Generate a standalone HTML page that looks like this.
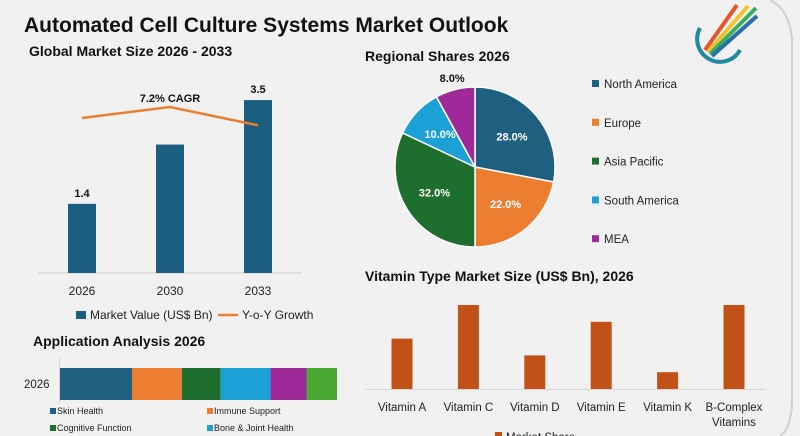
<!DOCTYPE html>
<html><head><meta charset="utf-8"><style>
body{margin:0;background:#f1f1f1;}
svg{display:block;font-family:"Liberation Sans",sans-serif;}
</style></head><body>
<svg id="s" width="800" height="436" viewBox="0 0 800 436">
<rect x="0" y="0" width="800" height="436" fill="#f1f1f1"/>
<path d="M770 0 Q790 10 792 40 L792 405 Q790 430 780 436" fill="none" stroke="#cfcfcf" stroke-width="2"/>
<text x="24" y="32" font-size="21" font-weight="bold" fill="#111">Automated Cell Culture Systems Market Outlook</text>
<g>
<path d="M700 28 A22 22 0 1 0 740 50" fill="none" stroke="#1f8aa0" stroke-width="4"/>
<path d="M705 50 L737 5" stroke="#e8552b" stroke-width="4"/>
<path d="M708 52 L748 6" stroke="#f2c12e" stroke-width="4"/>
<path d="M710 54 L756 8" stroke="#3cae5a" stroke-width="4"/>
<path d="M712 56 L757 16" stroke="#2a6fa8" stroke-width="4"/>
</g>
<text x="29" y="56" font-size="14" font-weight="bold" fill="#111">Global Market Size 2026 - 2033</text>
<g id="left"></g>
<text x="365" y="61" font-size="14" font-weight="bold" fill="#111">Regional Shares 2026</text>
<g id="pie"></g>
<text x="365" y="281" font-size="14" font-weight="bold" fill="#111">Vitamin Type Market Size (US$ Bn), 2026</text>
<g id="vit"></g>
<text x="33" y="346" font-size="14" font-weight="bold" fill="#111">Application Analysis 2026</text>
<g id="app"></g>
</svg>
<script>
const years=["2026","2030","2033"];
const marketValues=[1.4,2.6,3.5];
const valueLabels=["1.4","","3.5"];
const growthValues=[7.0,7.6,6.6];
const regions=["North America","Europe","Asia Pacific","South America","MEA"];
const regionShares=[28,22,32,10,8];
const regionColors=["#1f5f7f","#ed7d31","#1e6e2e","#1ba1d8","#a0299a"];
const vitamins=[["Vitamin A"],["Vitamin C"],["Vitamin D"],["Vitamin E"],["Vitamin K"],["B-Complex","Vitamins"]];
const vitaminValues=[3,5,2,4,1,5];
const apps=["Skin Health","Immune Support","Cognitive Function","Bone & Joint Health","Eye Health","Other"];
const appValues=[26,18,14,18,13,11];
const appColors=["#1f5f7f","#ed7d31","#1e6e2e","#1ba1d8","#a0299a","#4aa832"];

const NS="http://www.w3.org/2000/svg";
function mk(p,tag,a,txt){const e=document.createElementNS(NS,tag);for(const k in a)e.setAttribute(k,a[k]);if(txt!==undefined)e.textContent=txt;p.appendChild(e);return e;}

// Left chart
const L=document.getElementById('left');
const lx=i=>82+i*88, ly=v=>273-v*49.4, gy=v=>118-(v-7.0)*18.3;
let ax=mk(L,'line',{x1:38,x2:302,y1:273,y2:273,stroke:'#d0d0d0'});

marketValues.forEach((v,i)=>{
 let r=mk(L,'rect',{x:lx(i)-14,y:ly(v),width:28,height:273-ly(v),fill:'#1b5e80'});
 
 if(valueLabels[i]){let t=mk(L,'text',{x:lx(i),y:ly(v)-7,'text-anchor':'middle','font-size':11,'font-weight':'bold',fill:'#111'},valueLabels[i]);
 }
 let t2=mk(L,'text',{x:lx(i),y:295,'text-anchor':'middle','font-size':12,fill:'#222'},years[i]);
 
});
let pl=mk(L,'polyline',{points:growthValues.map((v,i)=>lx(i)+','+gy(v)).join(' '),fill:'none',stroke:'#ed7d31','stroke-width':2.5});

let cg=mk(L,'text',{x:170,y:102,'text-anchor':'middle','font-size':11,'font-weight':'bold',fill:'#111'},'7.2% CAGR');

let lg1=mk(L,'rect',{x:76,y:311,width:10,height:8,fill:'#1b5e80'});

let lt1=mk(L,'text',{x:90,y:319,'font-size':12,fill:'#222'},'Market Value (US$ Bn)');

let lg2=mk(L,'line',{x1:218,x2:238,y1:315,y2:315,stroke:'#ed7d31','stroke-width':2.5});

let lt2=mk(L,'text',{x:242,y:319,'font-size':12,fill:'#222'},'Y-o-Y Growth');


// Pie
const P=document.getElementById('pie');
const cx=475,cy=167,R=80;const tot=regionShares.reduce((a,b)=>a+b,0);
let ang=-Math.PI/2;
regionShares.forEach((v,i)=>{
 const a2=ang+v/tot*2*Math.PI;
 const x1=cx+R*Math.cos(ang),y1=cy+R*Math.sin(ang),x2=cx+R*Math.cos(a2),y2=cy+R*Math.sin(a2);
 let p=mk(P,'path',{d:`M${cx},${cy} L${x1},${y1} A${R},${R} 0 ${a2-ang>Math.PI?1:0} 1 ${x2},${y2} Z`,fill:regionColors[i],stroke:'#fff','stroke-width':1.5});
 
 const m=(ang+a2)/2, rr=(i===4)?R+12:R*0.6;
 let t=mk(P,'text',{x:cx+rr*Math.cos(m),y:cy+rr*Math.sin(m)+4,'text-anchor':'middle','font-size':11,'font-weight':'bold',fill:i===4?'#111':'#fff'},v.toFixed(1)+'%');
 if(i===3)t.setAttribute('fill','#fff');
 
 ang=a2;
 let s=mk(P,'rect',{x:592,y:80+i*38.8,width:7,height:7,fill:regionColors[i]});
 
 let lt=mk(P,'text',{x:604,y:88+i*38.8,'font-size':11.5,fill:'#222'},regions[i]);
 
});

// Vitamin
const V=document.getElementById('vit');
const vx=i=>402+i*66.4, vy=v=>389-v*16.8;
let vax=mk(V,'line',{x1:366,x2:766,y1:389.5,y2:389.5,stroke:'#d6d6d6'});

vitaminValues.forEach((v,i)=>{
 let r=mk(V,'rect',{x:vx(i)-10.5,y:vy(v),width:21,height:389-vy(v),fill:'#c25118'});
 
 vitamins[i].forEach((ln,j)=>{let t=mk(V,'text',{x:vx(i),y:411+j*15,'text-anchor':'middle','font-size':11.5,fill:'#222'},ln);
 });
});
let vl=mk(V,'rect',{x:495,y:432,width:7,height:7,fill:'#c25118'});

let vlt=mk(V,'text',{x:506,y:441,'font-size':11.5,fill:'#222'},'Market Share');


// Application
const A=document.getElementById('app');
const atot=appValues.reduce((a,b)=>a+b,0);const aw=v=>v/atot*277;
let ay=mk(A,'line',{x1:59.5,x2:59.5,y1:358,y2:404,stroke:'#d6d6d6'});

let yl=mk(A,'text',{x:24,y:388,'font-size':11.5,fill:'#222'},'2026');

let acc=60;
appValues.forEach((v,i)=>{
 let r=mk(A,'rect',{x:acc,y:368,width:aw(v),height:32,fill:appColors[i]});
 
 acc+=aw(v);
});
apps.slice(0,4).forEach((n,i)=>{
 const x=i%2?207:50,y=i<2?414:431;
 let s=mk(A,'rect',{x:x,y:y-6,width:6,height:6,fill:appColors[i]});
 
 let t=mk(A,'text',{x:x+7,y:y,'font-size':9,fill:'#222'},n);
 
});
</script>
</body></html>
